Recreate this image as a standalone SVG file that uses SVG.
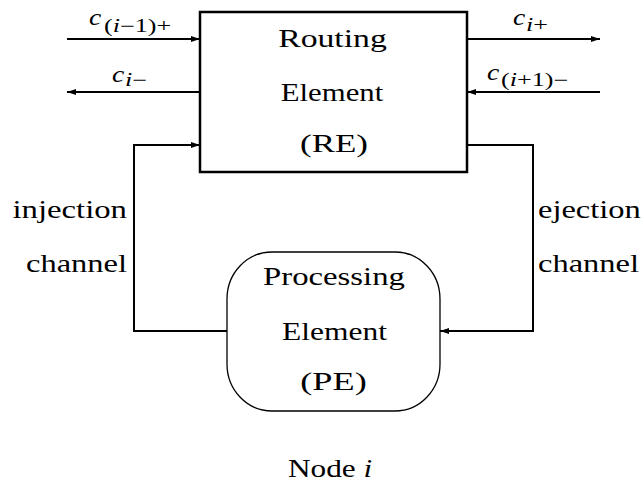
<svg xmlns="http://www.w3.org/2000/svg" width="644" height="493" viewBox="0 0 644 493" font-family="Liberation Serif, Times New Roman, serif">
<defs>
  <marker id="ah" markerUnits="userSpaceOnUse" markerWidth="10" markerHeight="6" refX="9" refY="3" orient="auto">
    <path d="M0,0 L9,3 L0,6 z" fill="#000"/>
  </marker>
</defs>

<g id="connectors" fill="none" stroke="#000" stroke-width="2">
  <line x1="67" y1="39" x2="200" y2="39" marker-end="url(#ah)"/>
  <line x1="200" y1="92" x2="67" y2="92" marker-end="url(#ah)"/>
  <line x1="467" y1="39" x2="600" y2="39" marker-end="url(#ah)"/>
  <line x1="600" y1="92" x2="467" y2="92" marker-end="url(#ah)"/>
  <polyline points="228,331 134,331 134,145 200,145" marker-end="url(#ah)"/>
  <polyline points="467,145 533,145 533,331 440,331" marker-end="url(#ah)"/>
</g>

<g id="labels" font-family="Liberation Serif, Times New Roman, serif">
  <text transform="translate(89,25) scale(1.15,1)" font-family="Liberation Serif, Times New Roman, serif" font-size="24" font-style="italic">c</text>
  <text transform="translate(104,32) scale(1.45,1)" font-family="Liberation Serif, Times New Roman, serif" font-size="18">(<tspan font-style="italic">i</tspan>−1)+</text>
  <text transform="translate(112,82) scale(1.15,1)" font-family="Liberation Serif, Times New Roman, serif" font-size="24" font-style="italic">c</text>
  <text transform="translate(125,86) scale(1.45,1)" font-family="Liberation Serif, Times New Roman, serif" font-size="18"><tspan font-style="italic">i</tspan>−</text>
  <text transform="translate(513,25) scale(1.15,1)" font-family="Liberation Serif, Times New Roman, serif" font-size="24" font-style="italic">c</text>
  <text transform="translate(526,31) scale(1.45,1)" font-family="Liberation Serif, Times New Roman, serif" font-size="18"><tspan font-style="italic">i</tspan>+</text>
  <text transform="translate(487,80) scale(1.15,1)" font-family="Liberation Serif, Times New Roman, serif" font-size="24" font-style="italic">c</text>
  <text transform="translate(501,86) scale(1.45,1)" font-family="Liberation Serif, Times New Roman, serif" font-size="18">(<tspan font-style="italic">i</tspan>+1)−</text>
  <text transform="translate(127,218) scale(1.31,1)" text-anchor="end" font-family="Liberation Serif, Times New Roman, serif" font-size="25">injection</text>
  <text transform="translate(127,272) scale(1.3,1)" text-anchor="end" font-family="Liberation Serif, Times New Roman, serif" font-size="25">channel</text>
  <text transform="translate(538,218) scale(1.3,1)" font-family="Liberation Serif, Times New Roman, serif" font-size="25">ejection</text>
  <text transform="translate(538,272) scale(1.3,1)" font-family="Liberation Serif, Times New Roman, serif" font-size="25">channel</text>
</g>

<g id="RE" font-family="Liberation Serif, Times New Roman, serif">
  <rect x="200" y="12" width="267" height="160" fill="#fff" stroke="#000" stroke-width="2.5"/>
  <text transform="translate(332.5,47) scale(1.35,1)" text-anchor="middle" font-family="Liberation Serif, Times New Roman, serif" font-size="25">Routing</text>
  <text transform="translate(332,101) scale(1.23,1)" text-anchor="middle" font-family="Liberation Serif, Times New Roman, serif" font-size="25">Element</text>
  <text transform="translate(334,152) scale(1.4,1)" text-anchor="middle" font-family="Liberation Serif, Times New Roman, serif" font-size="25">(RE)</text>
</g>

<g id="PE" font-family="Liberation Serif, Times New Roman, serif">
  <rect x="227" y="252" width="213" height="159" rx="45" ry="47" fill="#fff" stroke="#000" stroke-width="1.3"/>
  <text transform="translate(334,285) scale(1.31,1)" text-anchor="middle" font-family="Liberation Serif, Times New Roman, serif" font-size="25">Processing</text>
  <text transform="translate(334.5,340) scale(1.26,1)" text-anchor="middle" font-family="Liberation Serif, Times New Roman, serif" font-size="25">Element</text>
  <text transform="translate(333.5,390) scale(1.45,1)" text-anchor="middle" font-family="Liberation Serif, Times New Roman, serif" font-size="25">(PE)</text>
</g>

<g id="caption" font-family="Liberation Serif, Times New Roman, serif">
  <text transform="translate(288,477) scale(1.25,1)" font-family="Liberation Serif, Times New Roman, serif" font-size="25">Node <tspan font-style="italic">i</tspan></text>
</g>
</svg>
